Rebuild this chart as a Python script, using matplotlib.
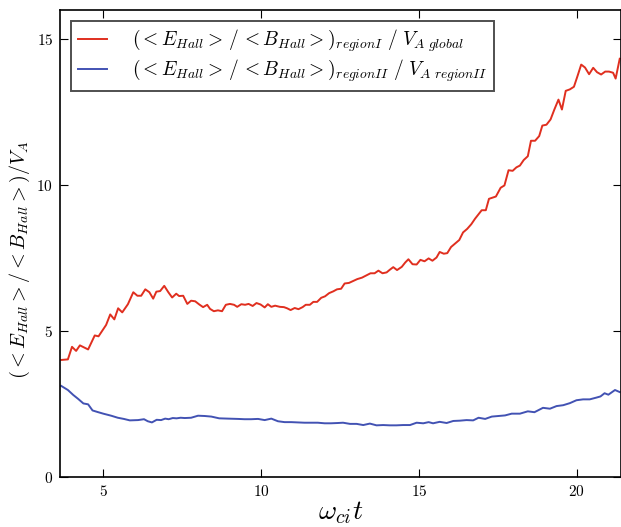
import matplotlib
matplotlib.use('Agg')
import matplotlib.pyplot as plt

plt.rcParams['mathtext.fontset'] = 'cm'
plt.rcParams['font.family'] = 'serif'
plt.rcParams['font.serif'] = ['cmr10']
plt.rcParams['axes.formatter.use_mathtext'] = True

# region I: <E_Hall>/<B_Hall> normalised by the global Alfven speed
t1 = [3.68, 3.89, 4.02, 4.15, 4.27, 4.53, 4.74, 4.86, 5.10, 5.23, 5.36, 5.48, 5.61, 5.79,
      5.96, 6.09, 6.21, 6.34, 6.47, 6.59, 6.69, 6.81, 6.94, 7.07, 7.19, 7.32, 7.41, 7.54,
      7.67, 7.79, 7.92, 8.05, 8.17, 8.30, 8.39, 8.51, 8.64, 8.77, 8.89, 9.02, 9.15, 9.25,
      9.38, 9.50, 9.61, 9.74, 9.86, 9.99, 10.12, 10.22, 10.33, 10.45, 10.60, 10.73, 10.83,
      10.94, 11.07, 11.19, 11.32, 11.42, 11.55, 11.66, 11.78, 11.91, 12.03, 12.16, 12.29,
      12.41, 12.54, 12.65, 12.79, 12.91, 13.05, 13.20, 13.34, 13.47, 13.60, 13.72, 13.85,
      13.98, 14.08, 14.19, 14.31, 14.46, 14.57, 14.67, 14.80, 14.93, 15.05, 15.18, 15.31,
      15.43, 15.56, 15.66, 15.79, 15.90, 16.02, 16.15, 16.28, 16.40, 16.53, 16.66, 16.78,
      16.91, 16.99, 17.12, 17.22, 17.44, 17.59, 17.71, 17.84, 17.97, 18.09, 18.20, 18.32,
      18.45, 18.55, 18.68, 18.81, 18.91, 19.04, 19.17, 19.29, 19.42, 19.53, 19.65, 19.78,
      19.91, 20.03, 20.14, 20.26, 20.39, 20.52, 20.64, 20.77, 20.90, 21.02, 21.15, 21.23,
      21.36]
ratio1 = [4.01, 4.03, 4.46, 4.32, 4.51, 4.37, 4.85, 4.82, 5.21, 5.57, 5.40, 5.78, 5.64, 5.92,
          6.33, 6.21, 6.21, 6.43, 6.33, 6.11, 6.35, 6.37, 6.55, 6.33, 6.15, 6.28, 6.20, 6.21,
          5.93, 6.04, 6.02, 5.91, 5.82, 5.90, 5.76, 5.68, 5.71, 5.68, 5.90, 5.93, 5.90, 5.83,
          5.92, 5.90, 5.93, 5.86, 5.96, 5.91, 5.81, 5.92, 5.83, 5.87, 5.83, 5.82, 5.78,
          5.72, 5.79, 5.75, 5.82, 5.90, 5.90, 6.00, 6.00, 6.14, 6.19, 6.30, 6.36,
          6.43, 6.45, 6.63, 6.65, 6.71, 6.78, 6.83, 6.91, 6.98, 6.98, 7.07, 6.98,
          7.01, 7.10, 7.19, 7.09, 7.20, 7.35, 7.46, 7.29, 7.28, 7.44, 7.39, 7.49,
          7.41, 7.52, 7.71, 7.65, 7.67, 7.88, 8.00, 8.12, 8.38, 8.50, 8.66, 8.85,
          9.03, 9.14, 9.14, 9.53, 9.61, 9.91, 9.99, 10.51, 10.49, 10.61, 10.67, 10.86,
          10.99, 11.52, 11.52, 11.68, 12.04, 12.07, 12.25, 12.59, 12.93, 12.59, 13.23, 13.28,
          13.37, 13.76, 14.13, 14.03, 13.80, 14.02, 13.87, 13.79, 13.89, 13.89, 13.85, 13.65,
          14.33]

# region II: normalised by the local Alfven speed
t2 = [3.68, 3.89, 4.06, 4.21, 4.38, 4.53, 4.67, 4.82, 5.01, 5.26, 5.47, 5.66, 5.85, 6.11,
      6.30, 6.42, 6.55, 6.70, 6.84, 6.97, 7.08, 7.21, 7.33, 7.46, 7.59, 7.79, 8.01, 8.22,
      8.43, 8.68, 8.96, 9.27, 9.48, 9.69, 9.91, 10.12, 10.33, 10.54, 10.75, 10.96, 11.17,
      11.38, 11.59, 11.80, 12.02, 12.22, 12.44, 12.60, 12.82, 13.03, 13.24, 13.45, 13.66,
      13.87, 14.08, 14.29, 14.50, 14.72, 14.93, 15.14, 15.31, 15.45, 15.66, 15.88, 16.09,
      16.30, 16.51, 16.72, 16.89, 17.10, 17.31, 17.52, 17.73, 17.94, 18.20, 18.45, 18.66,
      18.93, 19.15, 19.36, 19.57, 19.78, 19.99, 20.20, 20.41, 20.62, 20.75, 20.88, 21.00,
      21.21, 21.36]
ratio2 = [3.12, 2.98, 2.81, 2.68, 2.52, 2.49, 2.28, 2.23, 2.17, 2.10, 2.03, 1.99, 1.94, 1.95,
          1.98, 1.91, 1.87, 1.96, 1.95, 2.00, 1.98, 2.02, 2.01, 2.03, 2.02, 2.03, 2.10, 2.09,
          2.07, 2.01, 2.00, 1.99, 1.98, 1.98, 1.99, 1.95, 2.00, 1.91, 1.88, 1.88, 1.87,
          1.86, 1.86, 1.86, 1.84, 1.84, 1.85, 1.86, 1.82, 1.82, 1.78, 1.83, 1.77,
          1.78, 1.77, 1.77, 1.78, 1.78, 1.86, 1.84, 1.88, 1.84, 1.89, 1.85, 1.92,
          1.93, 1.95, 1.94, 2.03, 1.99, 2.07, 2.09, 2.11, 2.17, 2.17, 2.25, 2.22,
          2.37, 2.34, 2.43, 2.46, 2.53, 2.63, 2.66, 2.66, 2.72, 2.76, 2.87, 2.82,
          2.98, 2.91]

label1 = r'$(<E_{Hall}>\,/\,<B_{Hall}>)_{regionI}\ /\ V_{A\ global}$'
label2 = r'$(<E_{Hall}>\,/\,<B_{Hall}>)_{regionII}\ /\ V_{A\ regionII}$'
ylabel = r'$(<E_{Hall}>/<B_{Hall}>)/V_A$'

fig = plt.figure(figsize=(6.21, 5.27), dpi=100)
ax = fig.add_axes([60 / 621, 50 / 527, 561 / 621, 467 / 527])

ax.plot(t1, ratio1, color='#e02f1f', lw=1.4, label=label1)
ax.plot(t2, ratio2, color='#4252b3', lw=1.4, label=label2)

ax.set_xlim(3.64, 21.4)
ax.set_ylim(0, 16)
ax.set_xticks([5, 10, 15, 20])
ax.set_yticks([0, 5, 10, 15])
ax.tick_params(direction='in', top=True, right=True, labelsize=11, length=6, pad=5)
for s in ax.spines.values():
    s.set_linewidth(1.2)

ax.set_xlabel(r'$\omega_{ci}t$', fontsize=20, labelpad=0)
ax.set_ylabel(ylabel, fontsize=14.5)
ax.yaxis.set_label_coords(-0.05, 0.465)

leg = ax.legend(loc='upper left', fontsize=14, fancybox=False, edgecolor='#222222',
                handlelength=1.5, borderaxespad=0.55, labelspacing=0.2, handletextpad=1.3,
                borderpad=0.35)
leg.get_frame().set_linewidth(1.4)

fig.savefig('out.png', dpi=100)
